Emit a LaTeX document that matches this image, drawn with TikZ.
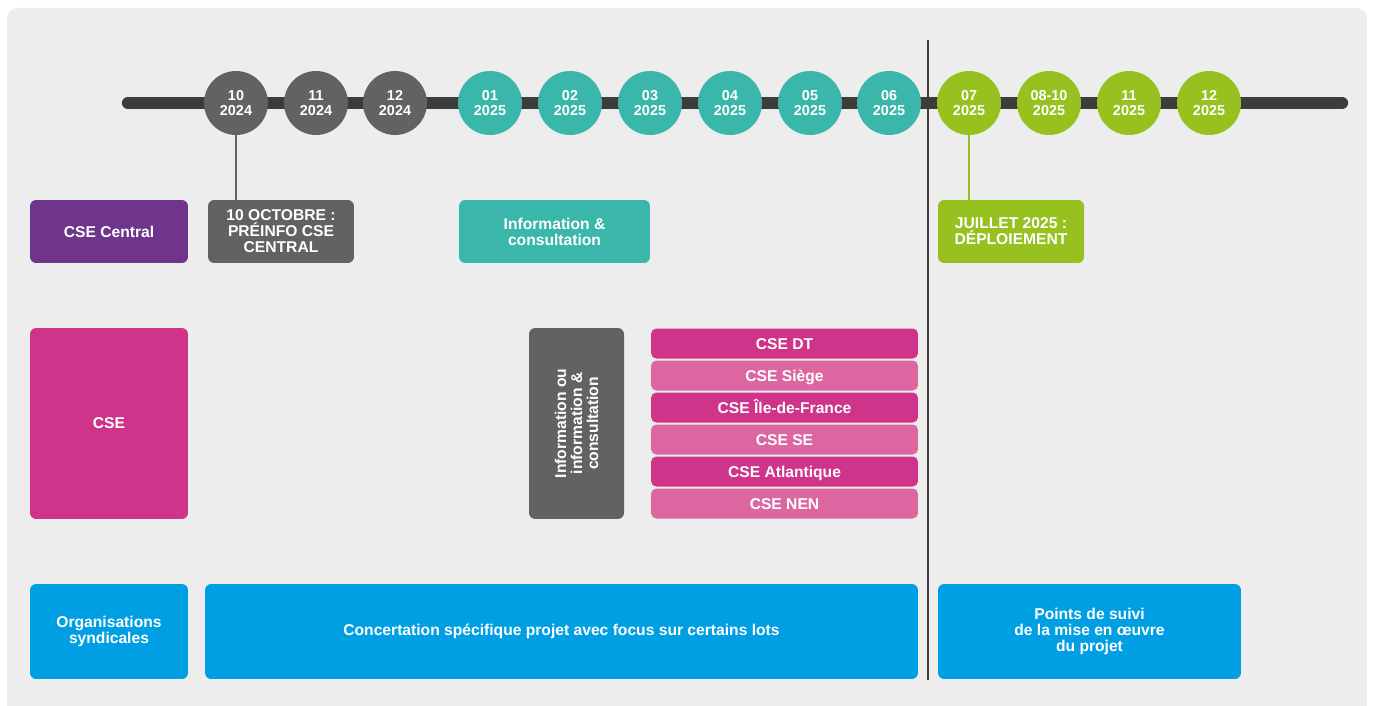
\documentclass[tikz,border=0pt]{standalone}
\usepackage{fontspec}
\setmainfont{Liberation Sans}
\definecolor{fond}{HTML}{EDEDED}
\definecolor{barre}{HTML}{3C3C3A}
\definecolor{gris}{HTML}{626262}
\definecolor{turquoise}{HTML}{3BB6AA}
\definecolor{vert}{HTML}{96C11F}
\definecolor{violet}{HTML}{6E358B}
\definecolor{rose}{HTML}{D0338A}
\definecolor{roseclair}{HTML}{DC67A0}
\definecolor{bleu}{HTML}{009FE3}
\begin{document}
\begin{tikzpicture}[x=0.02cm, y=-0.02cm,
		mois/.style={circle, fill=#1, text=white, minimum size=1.28cm, inner sep=0pt,
			align=center, font=\bfseries\fontsize{8.2}{8.6}\selectfont},
		bloc/.style={rounded corners=3.5pt, fill=#1, text=white, inner sep=2pt,
			align=center, font=\bfseries\fontsize{8.9}{9.1}\selectfont},
		ligne/.style={bloc=#1, rounded corners=3pt, minimum width=5.34cm, minimum height=0.6cm,
			text height=1.6ex, text depth=0.3ex}
		]
	% fond
	\useasboundingbox (0,0) rectangle (1375,706);
	\fill[white] (0,0) rectangle (1375,706);
	\fill[fond, rounded corners=6pt] (7,8) rectangle (1367,720);

	% frise
	\coordinate (debut) at (128,103);
	\coordinate (fin) at (1342,103);
	\draw[barre, line width=7pt, line cap=round] (debut) -- (fin);
	\coordinate (haut) at (928,40);
	\coordinate (bas) at (928,680);
	\draw[barre, line width=0.6pt] (haut) -- (bas);

	\node [mois=gris] (m10) at (236,103) {10\\2024};
	\node [mois=gris] (m11) at (316,103) {11\\2024};
	\node [mois=gris] (m12) at (395,103) {12\\2024};
	\node [mois=turquoise] (m01) at (490,103) {01\\2025};
	\node [mois=turquoise] (m02) at (570,103) {02\\2025};
	\node [mois=turquoise] (m03) at (650,103) {03\\2025};
	\node [mois=turquoise] (m04) at (730,103) {04\\2025};
	\node [mois=turquoise] (m05) at (810,103) {05\\2025};
	\node [mois=turquoise] (m06) at (889,103) {06\\2025};
	\node [mois=vert] (m07) at (969,103) {07\\2025};
	\node [mois=vert] (m0810) at (1049,103) {08-10\\2025};
	\node [mois=vert] (m11b) at (1129,103) {11\\2025};
	\node [mois=vert] (m12b) at (1209,103) {12\\2025};

	% CSE Central
	\node [bloc=violet, minimum width=3.16cm, minimum height=1.26cm] (central) at (109,231.5) {CSE Central};
	\node [bloc=gris, minimum width=2.92cm, minimum height=1.26cm] (preinfo) at (281,231.5) {10 OCTOBRE :\\PRÉINFO CSE\\CENTRAL};
	\node [bloc=turquoise, minimum width=3.82cm, minimum height=1.26cm] (infocons) at (554.5,231.5) {Information \&\\consultation};
	\node [bloc=vert, minimum width=2.92cm, minimum height=1.26cm] (deploi) at (1011,231.5) {JUILLET 2025 :\\DÉPLOIEMENT};
	\draw[gris, line width=1.2pt] (m10) -- (preinfo.north -| m10);
	\draw[vert, line width=1.2pt] (m07) -- (deploi.north -| m07);

	% CSE
	\node [bloc=rose, minimum width=3.16cm, minimum height=3.82cm] (cse) at (109,423.5) {CSE};
	\node [bloc=gris, rotate=90, minimum width=3.82cm, minimum height=1.9cm] (infoou) at (576.5,423.5) {Information ou\\information \&\\consultation};
	\node [ligne=rose] (dt) at (784.5,343.5) {CSE DT};
	\node [ligne=roseclair] (siege) at (784.5,375.5) {CSE Siège};
	\node [ligne=rose] (idf) at (784.5,407.5) {CSE Île-de-France};
	\node [ligne=roseclair] (se) at (784.5,439.5) {CSE SE};
	\node [ligne=rose] (atl) at (784.5,471.5) {CSE Atlantique};
	\node [ligne=roseclair] (nen) at (784.5,503.5) {CSE NEN};

	% Organisations syndicales
	\node [bloc=bleu, minimum width=3.16cm, minimum height=1.9cm] (os) at (109,631.5) {Organisations\\syndicales};
	\node [bloc=bleu, minimum width=14.26cm, minimum height=1.9cm] (concert) at (561.5,631.5) {Concertation spécifique projet avec focus sur certains lots};
	\node [bloc=bleu, minimum width=6.06cm, minimum height=1.9cm] (suivi) at (1089.5,631.5) {Points de suivi\\de la mise en œuvre\\du projet};
\end{tikzpicture}
\end{document}
